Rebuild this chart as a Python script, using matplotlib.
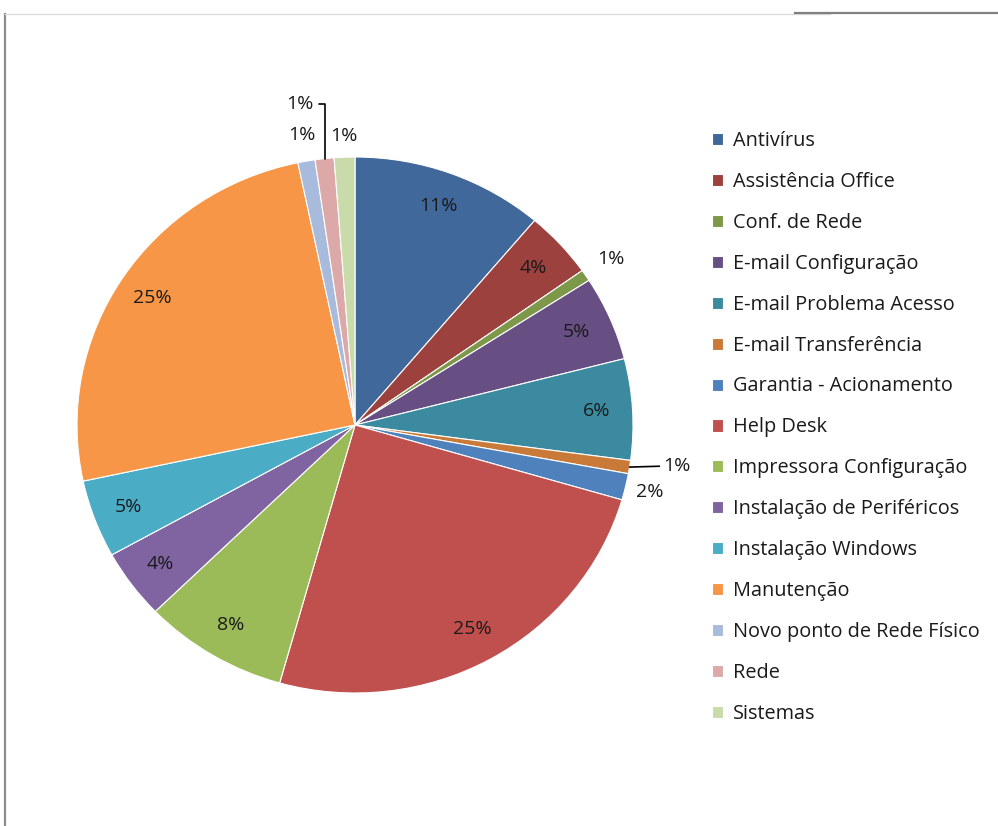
import numpy as np
import matplotlib
matplotlib.use("Agg")
import matplotlib.pyplot as plt
from matplotlib.lines import Line2D

plt.rcParams["font.family"] = ["Open Sans", "DejaVu Sans"]

W, H = 998, 826

categories = [
    "Antivírus", "Assistência Office", "Conf. de Rede", "E-mail Configuração",
    "E-mail Problema Acesso", "E-mail Transferência", "Garantia - Acionamento",
    "Help Desk", "Impressora Configuração", "Instalação de Periféricos",
    "Instalação Windows", "Manutenção", "Novo ponto de Rede Físico", "Rede",
    "Sistemas",
]
# estimated shares (percent)
values = [11.2, 4.05, 0.7, 5.1, 6.1, 0.8, 1.6, 24.9, 8.4, 4.2, 4.7, 25.1, 1.0, 1.1, 1.2]
colors = [
    "#41689A", "#9C413E", "#7D9848", "#674F84", "#3C8AA0", "#C97A38",
    "#4F81BD", "#C0504D", "#9BBB59", "#8064A2", "#4BACC6", "#F79646",
    "#A9BBDC", "#DDA9A8", "#C9DBAA",
]

fig = plt.figure(figsize=(W / 100, H / 100), dpi=100)
fig.patch.set_facecolor("white")

# pie box in pixels (centre 355,425; slightly wider than tall)
cx, cy, rx, ry = 355, 425, 278, 268
ax = fig.add_axes([(cx - rx) / W, (H - cy - ry) / H, 2 * rx / W, 2 * ry / H])
wedges, _ = ax.pie(values, colors=colors, startangle=90, counterclock=False,
                   radius=1.0, wedgeprops=dict(edgecolor="white", linewidth=0.8))
ax.set_aspect("auto")
ax.set_xlim(-1, 1)
ax.set_ylim(-1, 1)
ax.axis("off")

FS = 14
total = sum(values)
label_kw = dict(fontsize=FS, color="#1a1a1a")
for i, (w, v) in enumerate(zip(wedges, values)):
    txt = f"{round(v / total * 100):.0f}%"
    mid = np.deg2rad((w.theta1 + w.theta2) / 2)
    ux, uy = np.cos(mid), np.sin(mid)
    name = categories[i]
    if name == "E-mail Transferência":
        ax.annotate(txt, xy=(ux, uy), xytext=(1.11, uy + 0.005), ha="left", va="center",
                    arrowprops=dict(arrowstyle="-", color="black", lw=1.2,
                                    shrinkA=1, shrinkB=0), **label_kw)
    elif name == "Rede":
        ax.annotate(txt, xy=(ux, uy), xytext=(-0.15, 1.198),
                    ha="right", va="center",
                    arrowprops=dict(arrowstyle="-", color="black", lw=1.2,
                                    shrinkA=2, shrinkB=0,
                                    connectionstyle="angle,angleA=0,angleB=90,rad=0"),
                    **label_kw)
    elif name in ("Conf. de Rede", "Garantia - Acionamento",
                  "Novo ponto de Rede Físico", "Sistemas"):
        r = {"Conf. de Rede": 1.11, "Garantia - Acionamento": 1.09,
             "Novo ponto de Rede Físico": 1.1, "Sistemas": 1.08}[name]
        ax.text(ux * r, uy * r, txt, ha="center", va="center", **label_kw)
    else:
        ax.text(ux * 0.87, uy * 0.87, txt, ha="center", va="center", **label_kw)

# legend
leg = fig.legend(wedges, categories, loc="upper left",
                 bbox_to_anchor=(712 / W, 1 - 131 / H), frameon=False,
                 fontsize=FS, handlelength=0.58, handleheight=0.58,
                 handletextpad=0.52, labelspacing=1.075, borderpad=0,
                 borderaxespad=0)
for t in leg.get_texts():
    t.set_color("#1a1a1a")
    t.set_fontsize(14.3)

# frame lines
fig.add_artist(Line2D([5 / W, 5 / W], [0, 1 - 14 / H], color="#8c8c8c", lw=1.6))
fig.add_artist(Line2D([5 / W, 830 / W], [1 - 14 / H, 1 - 14 / H], color="#dcdcdc", lw=1.0))
fig.add_artist(Line2D([795 / W, 1], [1 - 12.5 / H, 1 - 12.5 / H], color="#808080", lw=1.6))

fig.savefig("out.png", dpi=100, facecolor="white")
